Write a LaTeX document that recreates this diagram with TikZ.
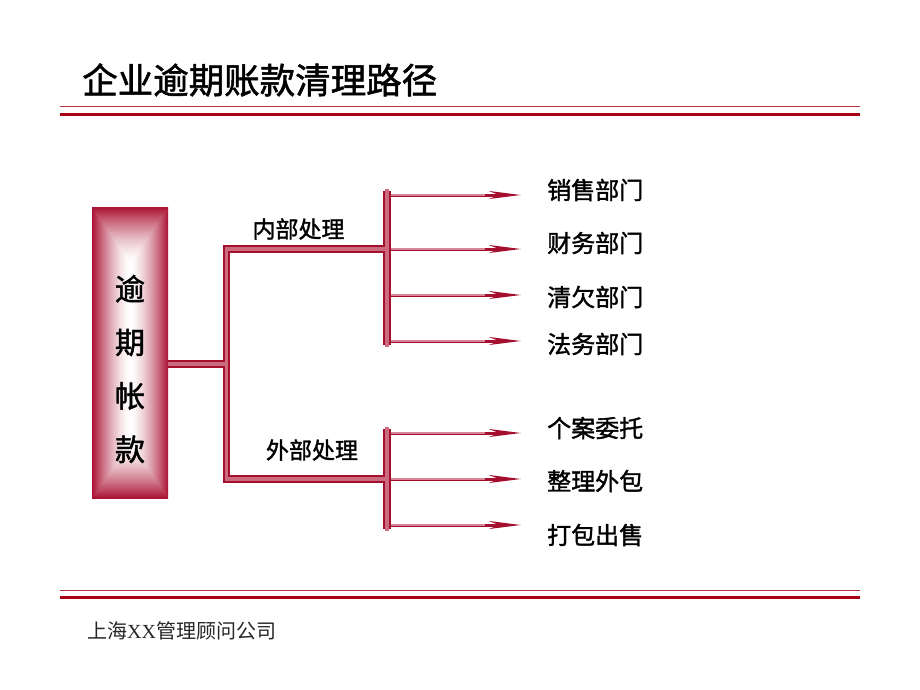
\documentclass[tikz,border=0pt]{standalone}
\usepackage{fontspec}
\setmainfont{Noto Sans CJK SC}
\newfontfamily\cjk{Noto Sans CJK SC}
\newfontfamily\cjkb[FakeBold=1.5]{Noto Sans CJK SC}
\newfontfamily\latinser{Liberation Serif}
\usetikzlibrary{arrows.meta}
\definecolor{dred}{HTML}{A50F2D}
\definecolor{pinkc}{HTML}{CC6A7E}
\definecolor{pinkl}{HTML}{D68696}
\definecolor{hdr}{HTML}{A80014}
\pgfdeclarefunctionalshading{boxshade}{\pgfpointorigin}{\pgfpoint{100bp}{100bp}}{}{
 50 sub abs 25 div 0.62 sub 0.38 div dup 0 lt {pop 0} if
 exch 50 sub abs 25 div
 2 copy lt {exch} if pop
 dup 1 gt {pop 1} if
 dup sqrt mul
 dup 0.33 mul 1 exch sub exch dup 0.93 mul 1 exch sub exch 0.80 mul 1 exch sub
}
\tikzset{
  tube/.style={draw=dred, line width=7.5pt, line join=miter},
  tubein/.style={draw=pinkc, line width=3.5pt, line join=miter},
  arr/.style={draw=dred, line width=3pt, -{Stealth[length=32pt,width=8pt,inset=10pt]}},
  arrin/.style={draw=pinkl, line width=1.2pt},
  lbl/.style={anchor=west, font=\cjkb\fontsize{24}{26}\selectfont, inner sep=0pt},
  sublbl/.style={font=\cjkb\fontsize{23}{25}\selectfont, inner sep=0pt},
  hthin/.style={draw=hdr!80, line width=1pt},
  hthick/.style={draw=hdr, line width=3.5pt}
}
\begin{document}
\begin{tikzpicture}[x=1pt,y=-1pt]
\useasboundingbox (0,0) rectangle (920,690);
% header and footer rules
\coordinate (hl1) at (60,106.5); \coordinate (hr1) at (860,106.5);
\coordinate (hl2) at (60,114.5); \coordinate (hr2) at (860,114.5);
\coordinate (fl1) at (60,590); \coordinate (fr1) at (860,590);
\coordinate (fl2) at (60,597.5); \coordinate (fr2) at (860,597.5);
\draw[hthin] (hl1) -- (hr1);
\draw[hthick] (hl2) -- (hr2);
\draw[hthin] (fl1) -- (fr1);
\draw[hthick] (fl2) -- (fr2);
\node[anchor=west, inner sep=0pt, font=\cjkb\fontsize{35.5}{37}\selectfont] (title) at (82,80) {企业逾期账款清理路径};
\node[anchor=west, inner sep=0pt, text=black!85, font=\cjk\fontsize{20}{22}\selectfont] (footer) at (87,631) {上海{\latinser XX}管理顾问公司};
% main box
\shade[shading=boxshade] (92,207) rectangle (168,498);
\node[minimum width=76pt, minimum height=291pt, inner sep=0pt] (box) at (130,352.5) {};
\node[align=center, inner sep=0pt, font=\cjkb\fontsize{30}{53.5}\selectfont] (boxtext) at (130,369) {逾\\期\\帐\\款};
% junctions
\coordinate (jm) at (226.5,364);
\coordinate (jt) at (226.5,249);
\coordinate (jb) at (226.5,479);
\coordinate (st) at (387,249);
\coordinate (sb) at (387,479);
\coordinate (stt) at (387,190.5);
\coordinate (stb) at (387,344.5);
\coordinate (sbt) at (387,428.5);
\coordinate (sbb) at (387,528.5);
% tubes
\draw[tube] (box.east |- jm) -- (jm);
\draw[tube] (st) -- (jt) -- (jb) -- (sb);
\draw[tube] (stt) -- (stb);
\draw[tube] (sbt) -- (sbb);
\draw[tubein] (box.east |- jm) -- (jm);
\draw[tubein] (st) -- (jt) -- (jb) -- (sb);
\draw[tubein] ([yshift=2pt]stt) -- ([yshift=-2pt]stb);
\draw[tubein] ([yshift=2pt]sbt) -- ([yshift=-2pt]sbb);
% labels on branches
\node[sublbl] (inner) at (298.5,229) {内部处理};
\node[sublbl] (outer) at (312,450) {外部处理};
% arrows and targets
\foreach \i/\ay/\ly/\t in {1/195/190/销售部门, 2/249/243/财务部门, 3/295/297/清欠部门, 4/341/344/法务部门, 5/433/428/个案委托, 6/479/481/整理外包, 7/525/535/打包出售}{
  \coordinate (as\i) at (391,\ay);
  \coordinate (ae\i) at (521,\ay);
  \node[lbl] (t\i) at (547,\ly) {\t};
  \draw[arr] (as\i) -- (ae\i);
  \draw[arrin] (as\i) -- ([xshift=-36pt]ae\i);
}
\end{tikzpicture}
\end{document}
